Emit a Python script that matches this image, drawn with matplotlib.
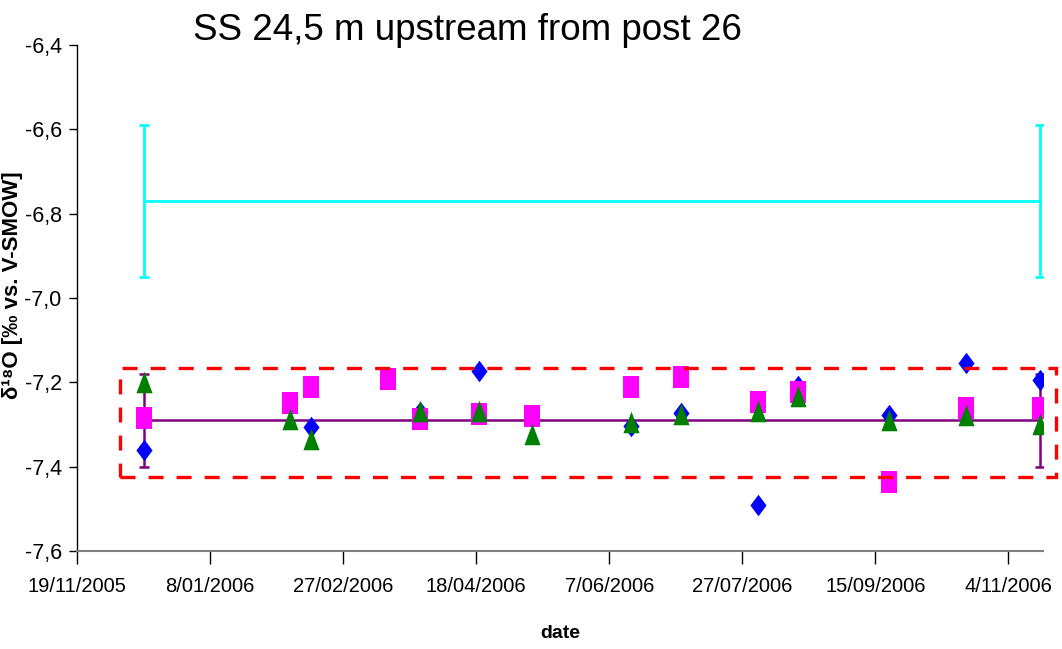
import datetime as dt

import matplotlib
matplotlib.use("Agg")
import matplotlib.pyplot as plt
import matplotlib.dates as mdates
from matplotlib.patches import Rectangle
from matplotlib.path import Path

# --- data -------------------------------------------------------------
sample_dates = ["2005-12-14", "2006-02-07", "2006-02-15", "2006-03-16",
                "2006-03-28", "2006-04-19", "2006-05-09", "2006-06-15",
                "2006-07-04", "2006-08-02", "2006-08-17", "2006-09-20",
                "2006-10-19", "2006-11-16"]
nan = float("nan")
run_1 = [-7.36, -7.25, -7.307, nan, -7.27, -7.173, nan, -7.304,
         -7.272, -7.492, -7.208, -7.277, -7.153, -7.194]
run_2 = [-7.285, -7.248, -7.21, -7.193, -7.287, -7.276, -7.281, -7.211,
         -7.187, -7.246, -7.222, -7.436, -7.262, -7.262]
run_3 = [-7.20, -7.287, -7.334, nan, -7.269, -7.269, -7.322, -7.293,
         -7.274, -7.268, -7.232, -7.289, -7.278, -7.299]

ref_dates = ["2005-12-14", "2006-11-16"]
upper_mean = -6.77
upper_err = 0.18
lower_mean = -7.29
lower_err = 0.11

box_dates = ["2005-12-05", "2006-11-22"]
box_low = -7.425
box_high = -7.165

x_tick_dates = ["2005-11-19", "2006-01-08", "2006-02-27", "2006-04-18",
                "2006-06-07", "2006-07-27", "2006-09-15", "2006-11-04"]
x_tick_labels = ["19/11/2005", "8/01/2006", "27/02/2006", "18/04/2006",
                 "7/06/2006", "27/07/2006", "15/09/2006", "4/11/2006"]
y_ticks = [-7.6, -7.4, -7.2, -7.0, -6.8, -6.6, -6.4]
y_tick_labels = ["-7,6", "-7,4", "-7,2", "-7,0", "-6,8", "-6,6", "-6,4"]
x_range = ["2005-11-19", "2006-11-17"]

title = "SS 24,5 m upstream from post 26"
x_label = "date"
y_label = "δ¹⁸O [‰ vs. V-SMOW]"


def to_dt(s):
    return dt.datetime.strptime(s, "%Y-%m-%d")


plt.rcParams["font.family"] = ["Liberation Sans", "DejaVu Sans"]

# --- markers stretched taller than wide -------------------------------
w = 0.75
square_m = Path([(-w, -1), (w, -1), (w, 1), (-w, 1), (-w, -1)], closed=True)
diamond_m = Path([(0, 1), (w, 0), (0, -1), (-w, 0), (0, 1)], closed=True)
triangle_m = Path([(0, 1), (w, -1), (-w, -1), (0, 1)], closed=True)

fig = plt.figure(figsize=(10.62, 6.49), dpi=100)
ax = fig.add_axes([77 / 1062, 1 - 551 / 649, (1043 - 77) / 1062, (551 - 45) / 649])

xd = [to_dt(s) for s in sample_dates]
rd = [to_dt(s) for s in ref_dates]

# mean lines with error bars at both ends
ax.errorbar(rd, [upper_mean] * 2, yerr=[upper_err] * 2, color="#00FFFF",
            lw=2.0, elinewidth=2.0, capsize=3.5, capthick=2.0, zorder=2)
ax.errorbar(rd, [lower_mean] * 2, yerr=[lower_err] * 2, color="#800080",
            lw=1.8, elinewidth=1.8, capsize=3.5, capthick=1.8, zorder=2)

ms = 15.5
ax.plot(xd, run_1, ls="none", marker=diamond_m, ms=ms, color="#0000FF",
        mew=0, zorder=3)
ax.plot(xd, run_2, ls="none", marker=square_m, ms=ms, color="#FF00FF",
        mew=0, zorder=4)
ax.plot(xd, run_3, ls="none", marker=triangle_m, ms=ms, color="#008000",
        mew=0, zorder=5)

# highlight box around the sample cluster
b0, b1 = [mdates.date2num(to_dt(s)) for s in box_dates]
lw_box = 2.4
ax.add_patch(Rectangle((b0, box_low), b1 - b0, box_high - box_low,
                       fill=False, edgecolor="#FF0000", lw=lw_box,
                       linestyle=(0, (10.8 / lw_box, 9.4 / lw_box)),
                       clip_on=False, zorder=6))

# axes styling
ax.set_xlim(to_dt(x_range[0]), to_dt(x_range[1]))
ax.set_ylim(y_ticks[0], y_ticks[-1])
ax.set_xticks([to_dt(s) for s in x_tick_dates])
ax.set_xticklabels(x_tick_labels, fontsize=14.5)
ax.set_yticks(y_ticks)
ax.set_yticklabels(y_tick_labels, fontsize=15.5)
ax.tick_params(axis="x", direction="out", length=9, width=1, color="black", pad=10)
ax.tick_params(axis="y", direction="out", length=6, width=1, color="black", pad=5)
for side in ("top", "right"):
    ax.spines[side].set_visible(False)
ax.spines["left"].set_color("black")
ax.spines["bottom"].set_color("#808080")
ax.spines["left"].set_linewidth(1.0)
ax.spines["bottom"].set_linewidth(1.5)

fig.text(467 / 1062, 1 - 40 / 649, title, ha="center", va="baseline", fontsize=26.5)
fig.text(560 / 1062, 1 - 634 / 649, x_label, ha="center", va="center",
         fontsize=14, fontweight="bold")
fig.text(13 / 1062, 1 - 285 / 649, y_label, ha="center", va="center",
         rotation=90, fontsize=16, fontweight="bold")

fig.savefig("out.png", dpi=100)
